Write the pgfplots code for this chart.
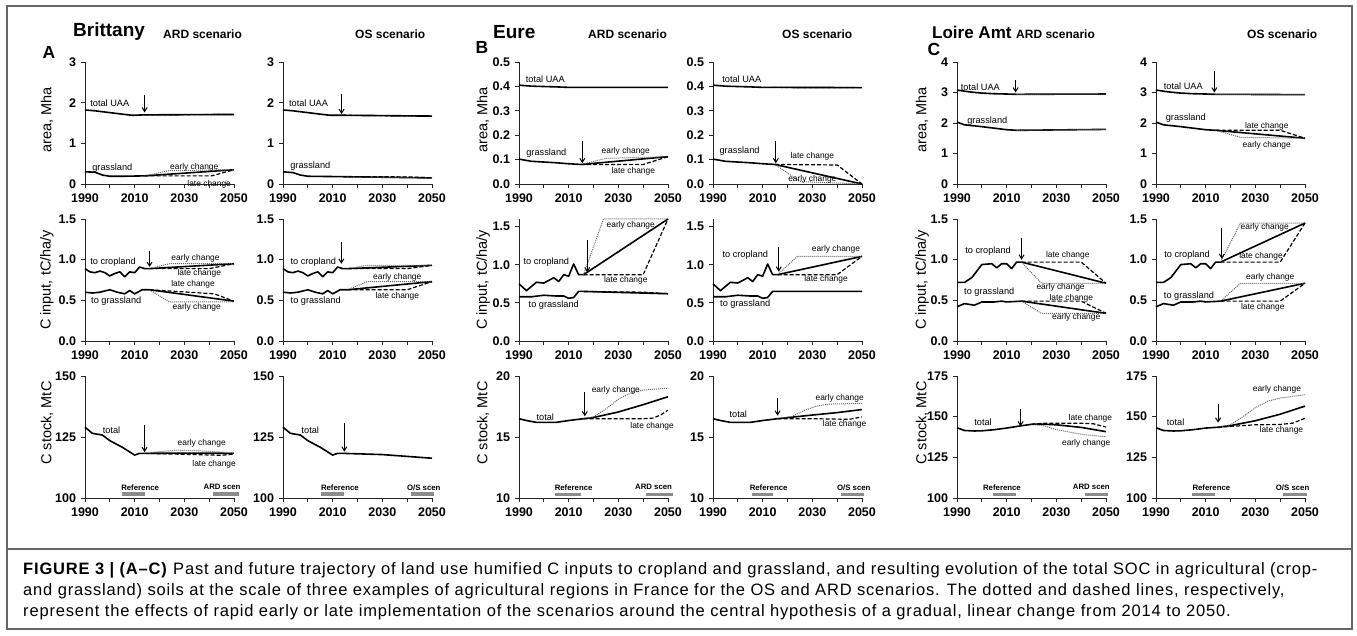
\documentclass[border=0pt]{standalone}
\usepackage{fontspec}
\setmainfont{Liberation Sans}
\newfontfamily\capfont[LetterSpace=5]{Liberation Sans}
\usepackage{pgfplots}
\pgfplotsset{compat=1.18}
\usetikzlibrary{arrows.meta}

\pgfplotsset{
  panel/.style={
    scale only axis, width=149pt, height=122pt, anchor=south west,
    axis x line*=bottom, axis y line*=left,
    axis line style={-, black!85, line width=0.9pt},
    tick style={black!85, line width=0.9pt},
    tick align=outside, major tick length=4pt,
    xmin=1990, xmax=2050,
    xtick={1990,2000,...,2050}, xticklabels={1990,,2010,,2030,,2050},
    ticklabel style={font=\bfseries\fontsize{12.5}{12.5}\selectfont},
    xticklabel style={yshift=-2.5pt},
    yticklabel style={xshift=-1.5pt},
    /pgf/number format/assume math mode=true,
    clip=false,
  },
  hist/.style={black, line width=1.6pt, line join=round, mark=none},
  early/.style={black!60, densely dotted, line width=1pt, mark=none},
  late/.style={black, dash pattern=on 4pt off 2pt, line width=1.2pt, mark=none},
  refbar/.style={black!45, line width=3.5pt, mark=none},
}
\tikzset{
  lab/.style={font=\fontsize{9.2}{9.2}\selectfont, inner sep=0pt},
  chg/.style={font=\fontsize{8.4}{8.4}\selectfont, inner sep=0pt},
  bar/.style={font=\bfseries\fontsize{7.8}{7.8}\selectfont, inner sep=0pt},
  arr/.style={-{Straight Barb[length=4pt,width=5pt]}, line width=1pt},
  ylab/.style={rotate=90, font=\fontsize{14.5}{14.5}\selectfont},
  ttl/.style={anchor=west, font=\bfseries\fontsize{19}{19}\selectfont, inner sep=0pt},
  scn/.style={anchor=west, font=\bfseries\fontsize{12}{12}\selectfont, inner sep=0pt},
  let/.style={font=\bfseries\fontsize{17.5}{17.5}\selectfont, inner sep=0pt},
}

\begin{document}
\begin{tikzpicture}[x=1pt,y=1pt]
\useasboundingbox (0,0) rectangle (1357,635);
\fill[white] (0,0) rectangle (1357,635);
\draw[black!60, line width=1.5pt] (7,6) rectangle (1352,629);
\draw[black!60, line width=1.2pt] (7,86) -- (1352,86);

% titles
\node[ttl] at (73,603) {Brittany};
\node[scn] at (163,601) {ARD scenario};
\node[scn] at (355,601) {OS scenario};
\node[let] at (49,583) {A};
\node[ttl] at (493,603) {Eure};
\node[scn] at (588,601) {ARD scenario};
\node[scn] at (782,601) {OS scenario};
\node[let] at (482,588) {B};
\node[ttl, font=\bfseries\fontsize{17}{17}\selectfont] at (932,603) {Loire Amt};
\node[scn] at (1016,601) {ARD scenario};
\node[scn] at (1247,601) {OS scenario};
\node[let] at (934,586) {C};

% y labels
\foreach \xx in {47,483,922}{
  \node[ylab] at (\xx,515) {area, Mha};
  \node[ylab] at (\xx,355) {C input, tC/ha/y};
  \node[ylab] at (\xx,212) {C stock, MtC};
}

%================ A: Brittany ================
\begin{axis}[panel, at={(85pt,451pt)}, ymin=0, ymax=3, ytick={0,1,2,3}, yticklabels={0,1,2,3}]
\addplot[hist] coordinates {(1990,1.82) (1994,1.80) (1998,1.77) (2002,1.74) (2006,1.71) (2009,1.69) (2014,1.70) (2050,1.71)};
\addplot[late] coordinates {(2014,1.70) (2050,1.71)};
\addplot[hist] coordinates {(1990,0.30) (1994,0.29) (1997,0.22) (2000,0.19) (2005,0.19) (2014,0.20) (2050,0.35)};
\addplot[early] coordinates {(2014,0.20) (2024,0.33) (2050,0.35)};
\addplot[late] coordinates {(2014,0.20) (2041,0.20) (2050,0.35)};
\node[lab] at (axis cs:2000,1.98) {total UAA};
\node[lab] at (axis cs:2001,0.40) {grassland};
\node[chg] at (axis cs:2034,0.42) {early change};
\node[chg] at (axis cs:2040,-0.01) {late change};
\draw[arr] (axis cs:2014,2.2) -- (axis cs:2014,1.76);
\end{axis}

\begin{axis}[panel, at={(283pt,451pt)}, ymin=0, ymax=3, ytick={0,1,2,3}, yticklabels={0,1,2,3}]
\addplot[hist] coordinates {(1990,1.82) (1994,1.80) (1998,1.77) (2002,1.74) (2006,1.71) (2009,1.69) (2014,1.69) (2050,1.67)};
\addplot[late] coordinates {(2014,1.69) (2050,1.67)};
\addplot[hist] coordinates {(1990,0.30) (1994,0.28) (1997,0.22) (2000,0.19) (2014,0.18) (2050,0.15)};
\addplot[early] coordinates {(2014,0.18) (2024,0.165) (2050,0.15)};
\addplot[late] coordinates {(2014,0.18) (2040,0.175) (2050,0.15)};
\node[lab] at (axis cs:2000.3,1.98) {total UAA};
\node[lab] at (axis cs:2001,0.45) {grassland};
\draw[arr] (axis cs:2013.6,2.22) -- (axis cs:2013.6,1.72);
\end{axis}

\begin{axis}[panel, at={(85pt,294pt)}, ymin=0, ymax=1.5, ytick={0,0.5,1,1.5}, yticklabels={0.0,0.5,1.0,1.5}]
\addplot[hist] coordinates {(1990,0.89) (1992,0.85) (1994,0.84) (1996,0.86) (1998,0.84) (2000,0.80) (2002,0.83) (2004,0.85) (2006,0.79) (2008,0.85) (2010,0.84) (2012,0.91) (2014,0.89) (2016,0.89) (2050,0.95)};
\addplot[early] coordinates {(2016,0.89) (2024,0.95) (2050,0.95)};
\addplot[late] coordinates {(2016,0.89) (2040,0.89) (2050,0.95)};
\addplot[hist] coordinates {(1990,0.60) (1993,0.59) (1996,0.60) (2000,0.63) (2003,0.60) (2006,0.58) (2008,0.62) (2010,0.58) (2013,0.63) (2016,0.63) (2050,0.49)};
\addplot[early] coordinates {(2016,0.63) (2024,0.48) (2050,0.48)};
\addplot[late] coordinates {(2016,0.63) (2042,0.58) (2050,0.49)};
\node[lab] at (axis cs:2001.3,0.97) {to cropland};
\node[chg] at (axis cs:2034.5,1.02) {early change};
\node[chg] at (axis cs:2036,0.83) {late change};
\node[chg] at (axis cs:2033.5,0.70) {late change};
\node[lab] at (axis cs:2002.6,0.49) {to grassland};
\node[chg] at (axis cs:2035,0.41) {early change};
\draw[arr] (axis cs:2016,1.11) -- (axis cs:2016,0.91);
\end{axis}

\begin{axis}[panel, at={(283pt,294pt)}, ymin=0, ymax=1.5, ytick={0,0.5,1,1.5}, yticklabels={0.0,0.5,1.0,1.5}]
\addplot[hist] coordinates {(1990,0.89) (1992,0.85) (1994,0.84) (1996,0.86) (1998,0.84) (2000,0.80) (2002,0.83) (2004,0.85) (2006,0.79) (2008,0.85) (2010,0.84) (2012,0.91) (2014,0.89) (2016,0.89) (2050,0.93)};
\addplot[early] coordinates {(2016,0.89) (2024,0.93) (2050,0.93)};
\addplot[late] coordinates {(2016,0.89) (2040,0.89) (2050,0.93)};
\addplot[hist] coordinates {(1990,0.60) (1993,0.59) (1996,0.60) (2000,0.63) (2003,0.60) (2006,0.58) (2008,0.62) (2010,0.58) (2013,0.63) (2016,0.63) (2050,0.73)};
\addplot[early] coordinates {(2016,0.63) (2024,0.73) (2050,0.73)};
\addplot[late] coordinates {(2016,0.63) (2040,0.63) (2050,0.73)};
\node[lab] at (axis cs:2002.2,0.97) {to cropland};
\node[chg] at (axis cs:2036,0.78) {early change};
\node[chg] at (axis cs:2036,0.55) {late change};
\node[lab] at (axis cs:2003.2,0.49) {to grassland};
\draw[arr] (axis cs:2013.5,1.22) -- (axis cs:2013.5,0.95);
\end{axis}

\begin{axis}[panel, at={(85pt,137pt)}, ymin=100, ymax=150, ytick={100,125,150}, yticklabels={100,125,150}]
\addplot[hist] coordinates {(1990,129) (1993,126.5) (1997,125.8) (2000,123.5) (2005,120.8) (2010,117.6) (2012,118.3) (2014,118.3) (2030,118.4) (2050,118.3)};
\addplot[early] coordinates {(2014,118.3) (2020,119.0) (2027,119.6) (2035,119.4) (2050,118.5)};
\addplot[late] coordinates {(2014,118.3) (2030,117.9) (2045,117.5) (2050,118.0)};
\addplot[refbar] coordinates {(2005,101.6) (2014,101.6)};
\addplot[refbar] coordinates {(2041.5,101.6) (2052,101.6)};
\node[lab] at (axis cs:2000.7,127.9) {total};
\node[chg] at (axis cs:2037,122.4) {early change};
\node[chg] at (axis cs:2042,113.8) {late change};
\node[bar] at (axis cs:2012.2,104.4) {Reference};
\node[bar] at (axis cs:2045.2,104.4) {ARD scen};
\draw[arr] (axis cs:2014,130) -- (axis cs:2014,118.8);
\end{axis}

\begin{axis}[panel, at={(283pt,137pt)}, ymin=100, ymax=150, ytick={100,125,150}, yticklabels={100,125,150}]
\addplot[hist] coordinates {(1990,129) (1993,126.5) (1997,125.8) (2000,123.5) (2005,120.8) (2010,117.6) (2012,118.3) (2014,118.3) (2030,117.8) (2050,116.3)};
\addplot[refbar] coordinates {(2005.4,101.6) (2014.4,101.6)};
\addplot[refbar] coordinates {(2041.5,101.6) (2051,101.6)};
\node[lab] at (axis cs:2001,127.9) {total};
\node[bar] at (axis cs:2012.9,104.4) {Reference};
\node[bar] at (axis cs:2046.7,104.4) {O/S scen};
\draw[arr] (axis cs:2014.7,130.6) -- (axis cs:2014.7,119);
\end{axis}

%================ B: Eure ================
\begin{axis}[panel, at={(519pt,451pt)}, ymin=0, ymax=0.5, ytick={0,0.1,...,0.5}, yticklabels={0.0,0.1,0.2,0.3,0.4,0.5}]
\addplot[hist] coordinates {(1990,0.405) (1995,0.401) (2005,0.398) (2010,0.396) (2050,0.396)};
\addplot[late] coordinates {(2014,0.396) (2050,0.396)};
\addplot[hist] coordinates {(1990,0.102) (1995,0.093) (2000,0.090) (2005,0.087) (2010,0.083) (2015,0.080) (2050,0.112)};
\addplot[early] coordinates {(2015,0.080) (2025,0.105) (2050,0.112)};
\addplot[late] coordinates {(2015,0.080) (2040,0.080) (2050,0.112)};
\node[lab] at (axis cs:2000.6,0.43) {total UAA};
\node[lab] at (axis cs:2001,0.127) {grassland};
\node[chg] at (axis cs:2033,0.133) {early change};
\node[chg] at (axis cs:2036,0.051) {late change};
\draw[arr] (axis cs:2015.5,0.175) -- (axis cs:2015.5,0.085);
\end{axis}

\begin{axis}[panel, at={(713pt,451pt)}, ymin=0, ymax=0.5, ytick={0,0.1,...,0.5}, yticklabels={0.0,0.1,0.2,0.3,0.4,0.5}]
\addplot[hist] coordinates {(1990,0.405) (1995,0.401) (2005,0.398) (2010,0.396) (2050,0.395)};
\addplot[late] coordinates {(2014,0.396) (2050,0.395)};
\addplot[hist] coordinates {(1990,0.102) (1995,0.093) (2000,0.090) (2005,0.087) (2010,0.083) (2015,0.080) (2050,0.0)};
\addplot[early] coordinates {(2015,0.080) (2025,0.010) (2050,0.0)};
\addplot[late] coordinates {(2015,0.080) (2040,0.078) (2050,0.0)};
\node[lab] at (axis cs:2001.6,0.43) {total UAA};
\node[lab] at (axis cs:2000.7,0.133) {grassland};
\node[chg] at (axis cs:2030,0.113) {late change};
\node[chg] at (axis cs:2030,0.019) {early change};
\draw[arr] (axis cs:2015.3,0.175) -- (axis cs:2015.3,0.085);
\end{axis}

\begin{axis}[panel, at={(519pt,294pt)}, ymin=0, ymax=1.6, ytick={0,0.5,1,1.5}, yticklabels={0.0,0.5,1.0,1.5}]
\addplot[hist] coordinates {(1990,0.75) (1993,0.66) (1997,0.77) (2000,0.76) (2004,0.83) (2006,0.78) (2008,0.87) (2010,0.85) (2012,1.01) (2014,0.87) (2016,0.87) (2050,1.60)};
\addplot[early] coordinates {(2016,0.87) (2024,1.60) (2050,1.60)};
\addplot[late] coordinates {(2016,0.87) (2040,0.87) (2050,1.60)};
\addplot[hist] coordinates {(1990,0.58) (1995,0.58) (2000,0.60) (2005,0.59) (2008,0.59) (2010,0.56) (2012,0.57) (2014,0.65) (2016,0.65) (2050,0.62)};
\addplot[late] coordinates {(2016,0.65) (2040,0.64) (2050,0.62)};
\node[lab] at (axis cs:2001,1.03) {to cropland};
\node[chg] at (axis cs:2035,1.52) {early change};
\node[chg] at (axis cs:2033,0.79) {late change};
\node[lab] at (axis cs:2004,0.47) {to grassland};
\draw[arr] (axis cs:2017.5,1.33) -- (axis cs:2017.5,0.90);
\end{axis}

\begin{axis}[panel, at={(713pt,294pt)}, ymin=0, ymax=1.6, ytick={0,0.5,1,1.5}, yticklabels={0.0,0.5,1.0,1.5}]
\addplot[hist] coordinates {(1990,0.75) (1993,0.66) (1997,0.77) (2000,0.76) (2004,0.83) (2006,0.78) (2008,0.87) (2010,0.85) (2012,1.01) (2014,0.87) (2016,0.87) (2050,1.11)};
\addplot[early] coordinates {(2016,0.87) (2024,1.11) (2050,1.11)};
\addplot[late] coordinates {(2016,0.87) (2040,0.87) (2050,1.11)};
\addplot[hist] coordinates {(1990,0.58) (1995,0.58) (2000,0.60) (2005,0.59) (2008,0.59) (2010,0.56) (2012,0.57) (2014,0.65) (2016,0.65) (2050,0.65)};
\node[lab] at (axis cs:2003,1.12) {to cropland};
\node[chg] at (axis cs:2039.5,1.20) {early change};
\node[chg] at (axis cs:2035.5,0.81) {late change};
\node[lab] at (axis cs:2003,0.48) {to grassland};
\draw[arr] (axis cs:2016.5,1.23) -- (axis cs:2016.5,0.91);
\end{axis}

\begin{axis}[panel, at={(519pt,137pt)}, ymin=10, ymax=20, ytick={10,15,20}, yticklabels={10,15,20}]
\addplot[hist] coordinates {(1990,16.5) (1993,16.35) (1997,16.2) (2000,16.2) (2005,16.2) (2010,16.35) (2016,16.5) (2020,16.6) (2030,17.05) (2040,17.65) (2050,18.3)};
\addplot[early] coordinates {(2016,16.5) (2020,16.65) (2025,17.3) (2030,18.1) (2035,18.6) (2040,18.85) (2050,19.0)};
\addplot[late] coordinates {(2016,16.5) (2040,16.5) (2044,16.55) (2047,16.8) (2050,17.2)};
\addplot[refbar] coordinates {(2004.6,10.3) (2014.9,10.3)};
\addplot[refbar] coordinates {(2041,10.3) (2052,10.3)};
\node[lab] at (axis cs:2000.6,16.6) {total};
\node[chg] at (axis cs:2029,18.8) {early change};
\node[chg] at (axis cs:2043.6,15.9) {late change};
\node[bar] at (axis cs:2012,10.88) {Reference};
\node[bar] at (axis cs:2044.2,10.88) {ARD scen};
\draw[arr] (axis cs:2016.5,18.65) -- (axis cs:2016.5,16.7);
\end{axis}

\begin{axis}[panel, at={(713pt,137pt)}, ymin=10, ymax=20, ytick={10,15,20}, yticklabels={10,15,20}]
\addplot[hist] coordinates {(1990,16.5) (1993,16.35) (1997,16.2) (2005,16.2) (2010,16.35) (2016,16.5) (2030,16.8) (2040,17.0) (2050,17.25)};
\addplot[early] coordinates {(2016,16.5) (2022,16.7) (2027,17.2) (2032,17.55) (2037,17.7) (2050,17.75)};
\addplot[late] coordinates {(2016,16.5) (2030,16.5) (2045,16.45) (2050,16.65)};
\addplot[refbar] coordinates {(2005.8,10.3) (2014,10.3)};
\addplot[refbar] coordinates {(2041.6,10.3) (2051,10.3)};
\node[lab] at (axis cs:2000.2,16.9) {total};
\node[chg] at (axis cs:2041,18.2) {early change};
\node[chg] at (axis cs:2043,16.0) {late change};
\node[bar] at (axis cs:2012.4,10.88) {Reference};
\node[bar] at (axis cs:2046.7,10.88) {O/S scen};
\draw[arr] (axis cs:2016,18.2) -- (axis cs:2016,16.75);
\end{axis}

%================ C: Loire Amt ================
\begin{axis}[panel, at={(957pt,451pt)}, ymin=0, ymax=4, ytick={0,1,2,3,4}, yticklabels={0,1,2,3,4}]
\addplot[hist] coordinates {(1990,3.08) (1995,3.02) (2000,2.98) (2005,2.96) (2010,2.95) (2014,2.94) (2050,2.95)};
\addplot[early] coordinates {(2014,2.94) (2050,2.95)};
\addplot[hist] coordinates {(1990,2.03) (1993,1.94) (2000,1.88) (2005,1.83) (2010,1.78) (2014,1.76) (2050,1.79)};
\addplot[early] coordinates {(2014,1.76) (2050,1.79)};
\node[lab] at (axis cs:1999.4,3.16) {total UAA};
\node[lab] at (axis cs:2002.2,2.07) {grassland};
\draw[arr] (axis cs:2013.6,3.41) -- (axis cs:2013.6,3.0);
\end{axis}

\begin{axis}[panel, at={(1156pt,451pt)}, ymin=0, ymax=4, ytick={0,1,2,3,4}, yticklabels={0,1,2,3,4}]
\addplot[hist] coordinates {(1990,3.08) (1995,3.02) (2000,2.98) (2005,2.96) (2010,2.95) (2014,2.94) (2050,2.93)};
\addplot[early] coordinates {(2014,2.94) (2050,2.93)};
\addplot[hist] coordinates {(1990,2.03) (1993,1.94) (2000,1.88) (2005,1.83) (2010,1.78) (2014,1.76) (2050,1.50)};
\addplot[early] coordinates {(2014,1.76) (2024,1.53) (2050,1.50)};
\addplot[late] coordinates {(2014,1.76) (2040,1.76) (2050,1.50)};
\node[lab] at (axis cs:2001,3.19) {total UAA};
\node[lab] at (axis cs:2002,2.15) {grassland};
\node[chg] at (axis cs:2034.6,1.90) {late change};
\node[chg] at (axis cs:2034.6,1.28) {early change};
\draw[arr] (axis cs:2013.5,3.72) -- (axis cs:2013.5,3.0);
\end{axis}

\begin{axis}[panel, at={(957pt,294pt)}, ymin=0, ymax=1.5, ytick={0,0.5,1,1.5}, yticklabels={0.0,0.5,1.0,1.5}]
\addplot[hist] coordinates {(1990,0.72) (1993,0.72) (1996,0.78) (2000,0.94) (2004,0.95) (2006,0.90) (2008,0.95) (2010,0.95) (2012,0.89) (2014,0.97) (2016,0.97) (2050,0.71)};
\addplot[early] coordinates {(2016,0.97) (2024,0.71) (2050,0.71)};
\addplot[late] coordinates {(2016,0.97) (2040,0.97) (2050,0.71)};
\addplot[hist] coordinates {(1990,0.42) (1993,0.46) (1997,0.44) (2000,0.48) (2005,0.48) (2008,0.49) (2010,0.48) (2016,0.49) (2050,0.34)};
\addplot[early] coordinates {(2016,0.49) (2024,0.34) (2050,0.34)};
\addplot[late] coordinates {(2016,0.49) (2040,0.49) (2050,0.34)};
\node[lab] at (axis cs:2002.5,1.11) {to cropland};
\node[chg] at (axis cs:2034.6,1.05) {late change};
\node[chg] at (axis cs:2031.7,0.66) {early change};
\node[lab] at (axis cs:2003,0.60) {to grassland};
\node[chg] at (axis cs:2036,0.53) {late change};
\node[chg] at (axis cs:2038,0.29) {early change};
\draw[arr] (axis cs:2016,1.27) -- (axis cs:2016,1.0);
\end{axis}

\begin{axis}[panel, at={(1156pt,294pt)}, ymin=0, ymax=1.5, ytick={0,0.5,1,1.5}, yticklabels={0.0,0.5,1.0,1.5}]
\addplot[hist] coordinates {(1990,0.72) (1993,0.72) (1996,0.78) (2000,0.94) (2004,0.95) (2006,0.90) (2008,0.95) (2010,0.95) (2012,0.89) (2014,0.97) (2016,0.97) (2050,1.45)};
\addplot[early] coordinates {(2016,0.97) (2024,1.45) (2050,1.45)};
\addplot[late] coordinates {(2016,0.97) (2040,0.97) (2050,1.45)};
\addplot[hist] coordinates {(1990,0.42) (1993,0.46) (1997,0.44) (2000,0.48) (2005,0.48) (2008,0.49) (2010,0.48) (2016,0.49) (2050,0.71)};
\addplot[early] coordinates {(2016,0.49) (2024,0.71) (2050,0.71)};
\addplot[late] coordinates {(2016,0.49) (2040,0.49) (2050,0.71)};
\node[lab] at (axis cs:2002.5,1.06) {to cropland};
\node[chg] at (axis cs:2033.8,1.40) {early change};
\node[chg] at (axis cs:2032.3,1.04) {late change};
\node[chg] at (axis cs:2036,0.78) {early change};
\node[lab] at (axis cs:2003.3,0.55) {to grassland};
\node[chg] at (axis cs:2033,0.42) {late change};
\draw[arr] (axis cs:2016.5,1.39) -- (axis cs:2016.5,1.01);
\end{axis}

\begin{axis}[panel, at={(957pt,137pt)}, ymin=100, ymax=175, ytick={100,125,150,175}, yticklabels={100,125,150,175}]
\addplot[hist] coordinates {(1990,143.2) (1993,141.5) (1997,141.2) (2000,141.3) (2005,142) (2010,143) (2015,144.2) (2020,145.3) (2023,145.5) (2030,145) (2040,143.4) (2050,140.8)};
\addplot[early] coordinates {(2020,145.3) (2025,144.4) (2030,142) (2040,139.2) (2050,137.6)};
\addplot[late] coordinates {(2020,145.3) (2025,146) (2040,146) (2045,145.6) (2050,143.6)};
\addplot[refbar] coordinates {(2004.5,102.3) (2013.9,102.3)};
\addplot[refbar] coordinates {(2041.4,102.3) (2051,102.3)};
\node[lab] at (axis cs:2000.5,146.3) {total};
\node[chg] at (axis cs:2043.7,149) {late change};
\node[chg] at (axis cs:2042,133.9) {early change};
\node[bar] at (axis cs:2008.1,106.6) {Reference};
\node[bar] at (axis cs:2044.1,106.6) {ARD scen};
\draw[arr] (axis cs:2015.6,155) -- (axis cs:2015.6,144);
\end{axis}

\begin{axis}[panel, at={(1156pt,137pt)}, ymin=100, ymax=175, ytick={100,125,150,175}, yticklabels={100,125,150,175}]
\addplot[hist] coordinates {(1990,143.2) (1993,141.5) (1997,141.2) (2000,141.3) (2005,142) (2010,143) (2015,143.5) (2020,144.5) (2030,147.5) (2040,151.5) (2050,156.5)};
\addplot[early] coordinates {(2015,143.5) (2020,145) (2025,150) (2030,155.5) (2035,159.5) (2040,161.5) (2050,163.5)};
\addplot[late] coordinates {(2015,143.5) (2020,144) (2030,145) (2040,145.2) (2045,146) (2050,149)};
\addplot[refbar] coordinates {(2004.6,102.3) (2013.8,102.3)};
\addplot[refbar] coordinates {(2041.3,102.3) (2051,102.3)};
\node[lab] at (axis cs:1997.9,146.7) {total};
\node[chg] at (axis cs:2038.7,167) {early change};
\node[chg] at (axis cs:2040.5,141.5) {late change};
\node[bar] at (axis cs:2012.3,106.6) {Reference};
\node[bar] at (axis cs:2045,106.6) {O/S scen};
\draw[arr] (axis cs:2015,157.6) -- (axis cs:2015,146.3);
\end{axis}

% caption
\node[anchor=north west, align=left, inner sep=0pt, font=\capfont\fontsize{16.5}{21}\selectfont] at (23,73)
{\textbf{FIGURE 3 | (A–C)} Past and future trajectory of land use humified C inputs to cropland and grassland, and resulting evolution of the total SOC in agricultural (crop-\\
and grassland) soils at the scale of three examples of agricultural regions in France for the OS and ARD scenarios. The dotted and dashed lines, respectively,\\
represent the effects of rapid early or late implementation of the scenarios around the central hypothesis of a gradual, linear change from 2014 to 2050.};
\end{tikzpicture}
\end{document}
